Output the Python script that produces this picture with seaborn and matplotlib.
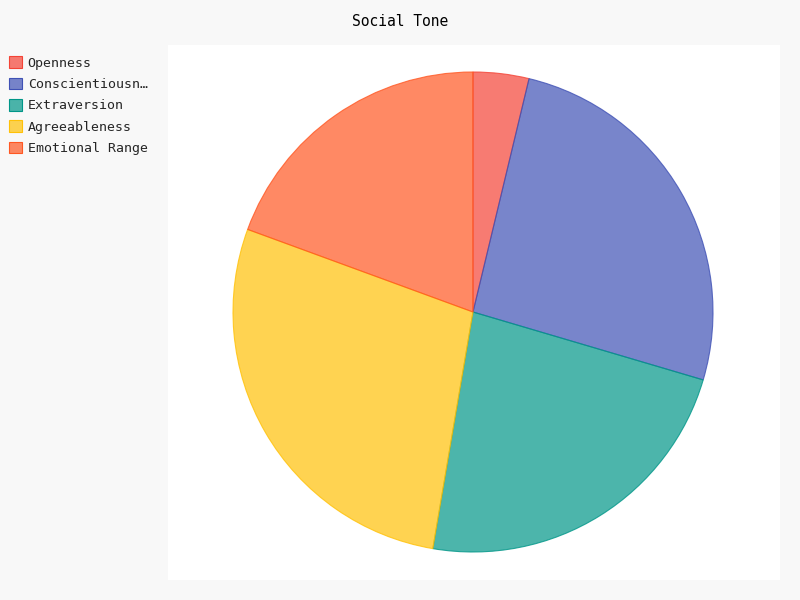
import matplotlib.pyplot as plt
import seaborn as sns
from matplotlib.patches import Patch
from matplotlib.colors import to_rgba

# data
labels = ["Openness", "Conscientiousness", "Extraversion", "Agreeableness", "Emotional Range"]
values = [3.75, 25.8, 23.1, 27.9, 19.4]
colors = ["#F44336", "#3F51B5", "#009688", "#FFC107", "#FF5722"]

sns.set_theme(style="white")
plt.rcParams['font.family'] = ['DejaVu Sans Mono']

fig = plt.figure(figsize=(8, 6), dpi=100, facecolor="#F8F8F8")
ax = fig.add_axes([168 / 800, 20 / 600, 612 / 800, 535 / 600])
ax.set_facecolor("white")

faces = [to_rgba(c, 0.7) for c in colors]
wedges, _ = ax.pie(values, colors=faces, startangle=90, counterclock=False,
                   center=(473, 288), radius=240, frame=True,
                   wedgeprops=dict(linewidth=0.8, edgecolor="none"))
for w, c in zip(wedges, colors):
  w.set_edgecolor(to_rgba(c, 0.8))

ax.set_xlim(168, 780)
ax.set_ylim(20, 555)
ax.set_xticks([])
ax.set_yticks([])
for s in ax.spines.values():
  s.set_visible(False)

fig.text(400 / 800, 1 - 21 / 600, "Social Tone", ha="center", va="center", fontsize=10.5, color="black")

short = [l if len(l) <= 15 else l[:14] + "…" for l in labels]
handles = [Patch(facecolor=f, edgecolor=c, linewidth=0.8) for f, c in zip(faces, colors)]
fig.legend(handles, short, loc="upper left", bbox_to_anchor=(0.0, 1 - 47 / 600),
           frameon=False, fontsize=9.5, handlelength=1.0, handleheight=1.0,
           handletextpad=0.4, labelspacing=0.6, borderaxespad=0.3)

fig.savefig("out.png", dpi=100, facecolor=fig.get_facecolor())
